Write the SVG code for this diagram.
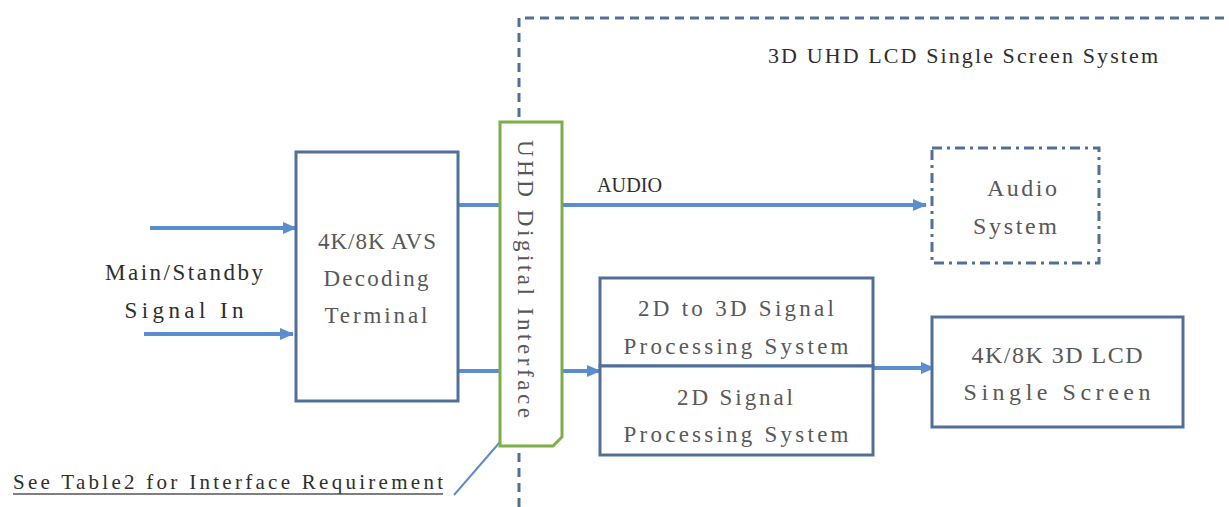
<svg xmlns="http://www.w3.org/2000/svg" width="1229" height="507" viewBox="0 0 1229 507">
<style>
text{font-family:"Liberation Serif",serif;font-size:23px;fill:#585858;}
.dark{fill:#2e2e2e;}
.box{fill:#fff;stroke:#50709a;stroke-width:3;}
.conn{stroke:#5b8ed0;stroke-width:4;fill:none;}
</style>
<defs>
<marker id="ah" markerWidth="14" markerHeight="12" refX="13" refY="6" orient="auto" markerUnits="userSpaceOnUse">
<path d="M0,0 L14,6 L0,12 Z" fill="#5b8ed0"/>
</marker>
</defs>
<rect width="1229" height="507" fill="#fff"/>
<g id="system-boundary">
<path d="M519,507 V18 H1229" fill="none" stroke="#50709a" stroke-width="3" stroke-dasharray="9,6"/>
<text x="768" y="63" class="dark" style="font-size:22px" textLength="390">3D UHD LCD Single Screen System</text>
</g>
<g id="connectors">
<line class="conn" x1="150" y1="228" x2="296" y2="228" marker-end="url(#ah)"/>
<line class="conn" x1="144" y1="334" x2="293" y2="334" marker-end="url(#ah)"/>
<line class="conn" x1="458" y1="205" x2="500" y2="205"/>
<line class="conn" x1="458" y1="371" x2="500" y2="371"/>
<line class="conn" x1="562" y1="205" x2="926" y2="205" marker-end="url(#ah)"/>
<line class="conn" x1="562" y1="371" x2="600" y2="371" marker-end="url(#ah)"/>
<line class="conn" x1="873" y1="368" x2="934" y2="368" marker-end="url(#ah)"/>
<line x1="454" y1="495" x2="500" y2="442" stroke="#5b8ed0" stroke-width="2"/>
</g>
<g id="input-label">
<text x="184" y="280" text-anchor="middle" class="dark" textLength="158">Main/Standby</text>
<text x="184" y="318" text-anchor="middle" class="dark" textLength="119">Signal In</text>
</g>
<g id="decoder">
<rect class="box" x="296" y="152" width="162" height="249"/>
<text x="377" y="249" text-anchor="middle" textLength="118">4K/8K AVS</text>
<text x="376" y="286" text-anchor="middle" textLength="105">Decoding</text>
<text x="376" y="323" text-anchor="middle" textLength="103">Terminal</text>
</g>
<g id="interface">
<path d="M500,122 H562 V437 L553,446 H500 Z" fill="#fff" stroke="#7cae4a" stroke-width="3"/>
<text x="526" y="287" text-anchor="middle" transform="rotate(90 526 279)" textLength="278">UHD Digital Interface</text>
</g>
<g id="audio-label">
<text x="597" y="192" class="dark" style="font-size:22px" textLength="65" lengthAdjust="spacingAndGlyphs">AUDIO</text>
</g>
<g id="audio-system">
<rect x="932" y="148" width="167" height="115" fill="#fff" stroke="#50709a" stroke-width="3" stroke-dasharray="10,5,3,5"/>
<text x="1022" y="196" text-anchor="middle" style="font-size:24px" textLength="70">Audio</text>
<text x="1015" y="234" text-anchor="middle" style="font-size:24px" textLength="84">System</text>
</g>
<g id="proc-3d">
<rect class="box" x="600" y="278" width="273" height="88"/>
<text x="736" y="316" text-anchor="middle" textLength="196">2D to 3D Signal</text>
<text x="736" y="354" text-anchor="middle" textLength="225">Processing System</text>
</g>
<g id="proc-2d">
<rect class="box" x="600" y="366" width="273" height="89"/>
<text x="735" y="405" text-anchor="middle" textLength="116">2D Signal</text>
<text x="736" y="442" text-anchor="middle" textLength="225">Processing System</text>
</g>
<g id="screen">
<rect class="box" x="932" y="317" width="251" height="110"/>
<text x="1057" y="363" text-anchor="middle" style="font-size:24px" textLength="171">4K/8K 3D LCD</text>
<text x="1057" y="400" text-anchor="middle" style="font-size:24px" textLength="187">Single Screen</text>
</g>
<g id="note">
<text x="13" y="489" class="dark" style="font-size:21px" textLength="430">See Table2 for Interface Requirement</text>
<line x1="13" y1="494" x2="443" y2="494" stroke="#555" stroke-width="1.5"/>
</g>
</svg>
